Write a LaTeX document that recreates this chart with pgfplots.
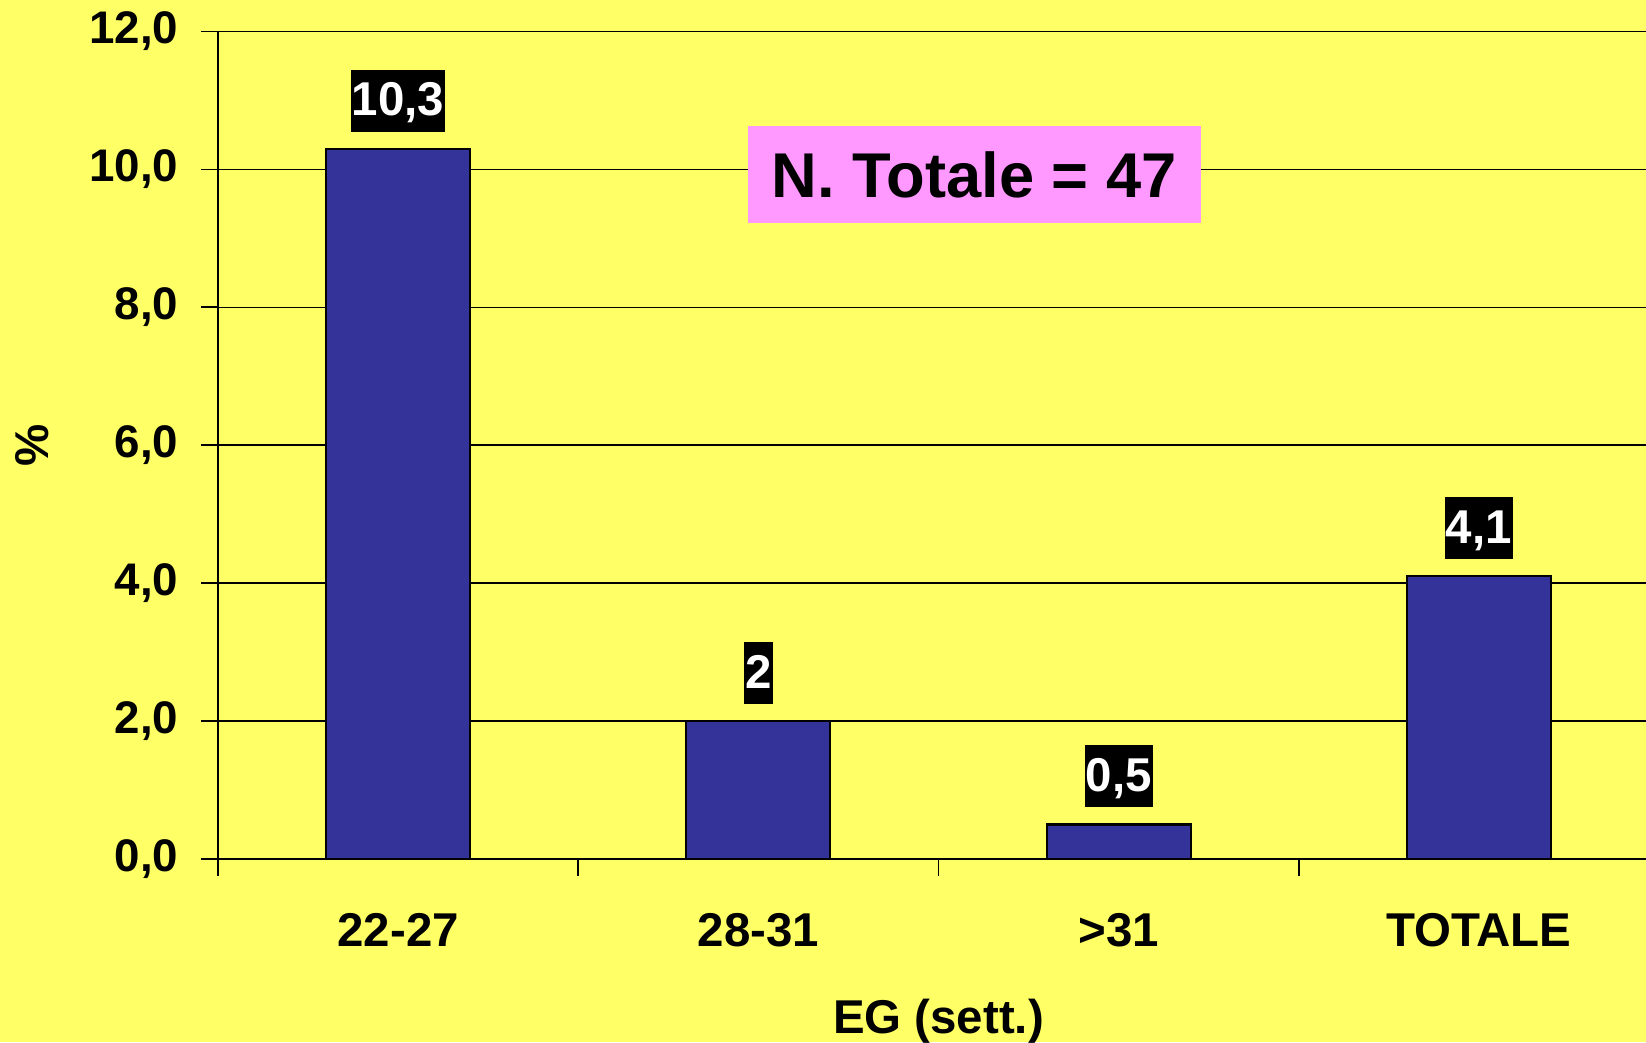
\documentclass[border=0pt]{standalone}
\usepackage{pgfplots}
\pgfplotsset{compat=1.18}
\usepackage{pgfplotstable}
\usepackage{fontspec}
\setmainfont{Liberation Sans}

\definecolor{bg}{HTML}{FFFF66}
\definecolor{barblue}{HTML}{333399}
\definecolor{boxpink}{HTML}{FF99FF}

% percentages by gestational age
\pgfplotstableread{
x y lab
0 10.3 10,3
1 2.0 2
2 0.5 0,5
3 4.1 4,1
}\datatab

\begin{document}
\begin{tikzpicture}
    \fill[bg] (-21.8mm,-18.3mm) rectangle (142.8mm,85.9mm);
    \begin{axis}[
            at={(0,0)}, anchor=south west,
            scale only axis,
            width=144.1mm,
            height=82.75mm,
            xmin=-0.5, xmax=3.5,
            ymin=0, ymax=12,
            axis x line*=bottom,
            axis y line*=left,
            every outer x axis line/.append style={-},
            every outer y axis line/.append style={-},
            axis line style={line width=0.6pt, black},
            tick align=outside,
            major tick length=1.7mm,
            tick style={line width=0.5pt, black},
            xtick={-0.5,0.5,1.5,2.5,3.5},
            x tick label as interval,
            xticklabels={22-27,28-31,>31,TOTALE},
            ytick={0,2,...,12},
            ymajorgrids=true,
            grid style={line width=0.45pt, black},
            /pgf/number format/.cd, fixed, fixed zerofill, precision=1, use comma, assume math mode=true,
            /pgfplots/.cd,
            yticklabel style={font=\fontsize{13}{15}\selectfont\bfseries, inner sep=0pt, anchor=east, xshift=-2.2mm},
            xticklabel style={font=\fontsize{13.5}{15}\selectfont\bfseries, inner sep=0pt, anchor=north, yshift=-3.7mm},
            xlabel={EG (sett.)},
            xlabel style={font=\fontsize{13.5}{15}\selectfont\bfseries, at={(axis description cs:0.5,0)}, anchor=base, inner sep=0pt, yshift=-17.4mm},
            ylabel={\%},
            % label is rotated, so yshift moves it to the left
            ylabel style={font=\fontsize{13.5}{15}\selectfont\bfseries, at={(axis description cs:0,0.5)}, anchor=center, inner sep=0pt, yshift=18.6mm},
            ybar,
            bar width=14.4mm,
        ]

        \addplot[
            fill=barblue, draw=black, line width=0.6pt,
            nodes near coords,
            point meta=explicit symbolic,
            nodes near coords style={
                    fill=black, text=white,
                    font=\fontsize{13.5}{15}\selectfont\bfseries,
                    anchor=south, yshift=1.6mm,
                    inner xsep=0.1mm, inner ysep=0pt,
                    text height=3.4mm, text depth=0.4mm,
                    minimum height=6.2mm
                },
        ] table[x=x, y=y, meta=lab] {\datatab};

        \node[fill=boxpink, minimum width=45.3mm, minimum height=9.7mm, inner sep=0pt,
            text height=4.6mm, text depth=0pt,
            font=\fontsize{18}{20}\selectfont\bfseries] at (axis cs:1.599,9.926) {N. Totale = 47};
    \end{axis}
    \pgfresetboundingbox
    \useasboundingbox (-21.8mm,-18.3mm) rectangle (142.8mm,85.9mm);
\end{tikzpicture}
\end{document}
